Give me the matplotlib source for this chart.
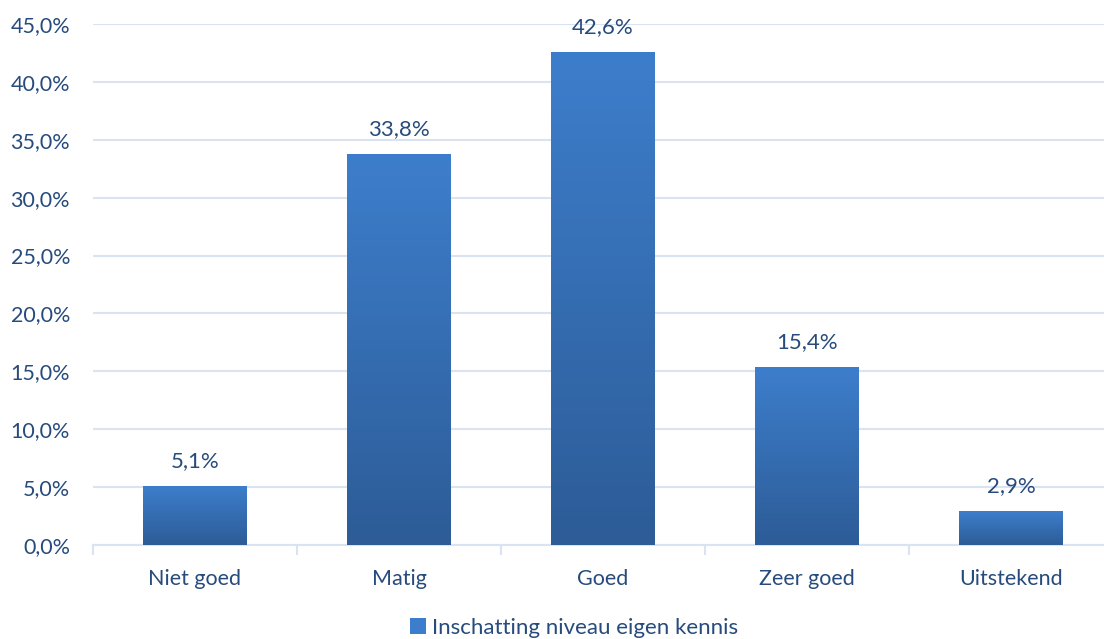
import numpy as np
import matplotlib
matplotlib.use("Agg")
import matplotlib.pyplot as plt
from matplotlib.colors import LinearSegmentedColormap
from matplotlib.patches import Patch
from matplotlib.ticker import FuncFormatter, FixedLocator

categories = ["Niet goed", "Matig", "Goed", "Zeer goed", "Uitstekend"]
values = [5.1, 33.8, 42.6, 15.4, 2.9]
series_name = "Inschatting niveau eigen kennis"

text_col = "#264B7C"
grid_col = "#D9E3F2"
top_col = "#3D7ECC"
bot_col = "#2D5C97"

plt.rcParams["font.family"] = ["Lato", "DejaVu Sans"]

fig = plt.figure(figsize=(11.04, 6.39), dpi=100)
ax = fig.add_axes([93 / 1104, 1 - 545 / 639, 1 - 93 / 1104, (545 - 24) / 639])

x = np.arange(len(categories))
bars = ax.bar(x, values, width=0.505, color=top_col, zorder=2)

# vertical gradient, lighter at the top
cmap = LinearSegmentedColormap.from_list("g", [bot_col, top_col])
grad = np.linspace(0, 1, 256).reshape(-1, 1)
for b in bars:
    x0, w, h = b.get_x(), b.get_width(), b.get_height()
    im = ax.imshow(grad, cmap=cmap, aspect="auto", origin="lower",
                   extent=[x0, x0 + w, 0, h], zorder=3)
    im.set_clip_path(b)

for xi, v in zip(x, values):
    ax.text(xi, v + 1.3, f"{v:.1f}%".replace(".", ","), ha="center", va="bottom",
            fontsize=16, color=text_col, zorder=4)

ax.set_xlim(-0.5, 4.456)
ax.set_ylim(0, 45)
ax.set_yticks(np.arange(0, 46, 5))
ax.yaxis.set_major_formatter(FuncFormatter(lambda v, p: f"{v:.1f}%".replace(".", ",")))
ax.grid(axis="y", color=grid_col, linewidth=1.5, zorder=0)
ax.set_axisbelow(True)

ax.set_xticks(x)
ax.set_xticklabels(categories)
ax.xaxis.set_minor_locator(FixedLocator(np.arange(-0.5, 5, 1)))
ax.tick_params(axis="x", which="major", length=0, pad=17, labelsize=15.5, labelcolor=text_col)
ax.tick_params(axis="x", which="minor", length=7, width=1.5, color=grid_col)
ax.tick_params(axis="y", length=0, pad=16.5, labelsize=15.5, labelcolor=text_col)

for s in ["top", "right", "left"]:
    ax.spines[s].set_visible(False)
ax.spines["bottom"].set_color(grid_col)
ax.spines["bottom"].set_linewidth(1.5)

leg_handle = Patch(facecolor=top_col, edgecolor="none")
fig.legend([leg_handle], [series_name], loc="center", bbox_to_anchor=(0.52, 1 - 628 / 639),
           frameon=False, fontsize=16, labelcolor=text_col, handlelength=0.7,
           handleheight=0.7, handletextpad=0.25)

fig.savefig("out.png", dpi=100)
